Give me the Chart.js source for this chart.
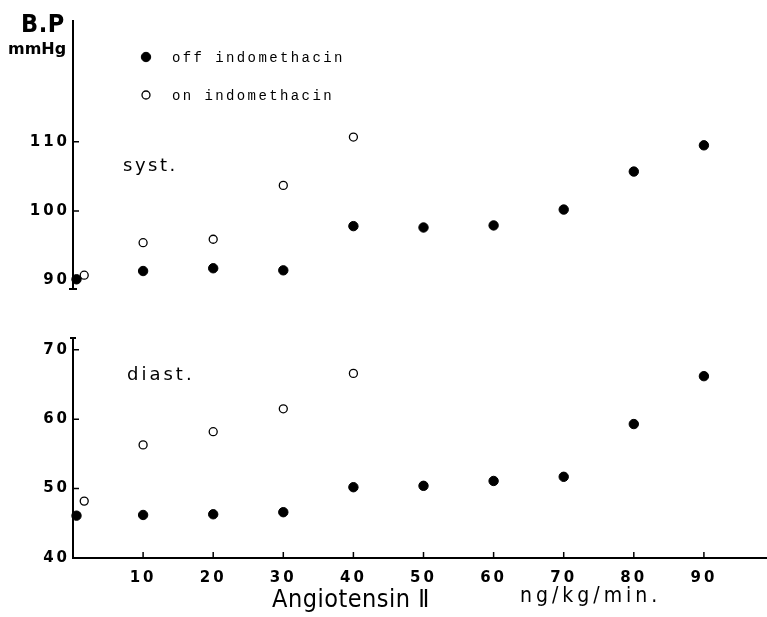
<!DOCTYPE html>
<html>
<head>
<meta charset="utf-8">
<script src="https://cdn.jsdelivr.net/npm/chart.js@4.4.0/dist/chart.umd.min.js"></script>
<style>
  html, body { margin: 0; padding: 0; background: #fff; }
  #wrap { position: relative; width: 767px; height: 617px; }
  #wrap canvas { position: absolute; left: 0; }
</style>
</head>
<body>
<div id="wrap">
  <canvas id="sysChart" width="767" height="300" style="top:0"></canvas>
  <canvas id="diaChart" width="767" height="317" style="top:300px"></canvas>
</div>
<script>
// dose of angiotensin II (ng/kg/min); the 0 dose is drawn slightly off the axis
const doseOff = [0.5, 10, 20, 30, 40, 50, 60, 70, 80, 90];
const doseOn = [1.6, 10, 20, 30, 40];

// systolic BP
const sysOff = [90.1, 91.3, 91.7, 91.4, 97.8, 97.6, 97.9, 100.2, 105.7, 109.5];
const sysOn = [90.7, 95.4, 95.9, 103.7, 110.7];

// diastolic BP
const diaOff = [46.1, 46.2, 46.3, 46.6, 50.2, 50.4, 51.1, 51.7, 59.3, 66.2];
const diaOn = [48.2, 56.3, 58.2, 61.5, 66.6];

const sysTicks = [90, 100, 110];
const diaTicks = [40, 50, 60, 70];
const doseTicks = [10, 20, 30, 40, 50, 60, 70, 80, 90];

const labelOff = "off indomethacin";
const labelOn = "on indomethacin";

Chart.defaults.font.family = "'DejaVu Sans', sans-serif";
Chart.defaults.color = "#000";

const tickFont = { family: "'DejaVu Sans'", size: 15, weight: "bold" };

function toPoints(xs, ys) {
  return ys.map((y, i) => ({ x: xs[i], y: y }));
}

function makeSets(offVals, onVals) {
  return [
    {
      label: labelOff,
      data: toPoints(doseOff, offVals),
      pointRadius: 4.7,
      pointBackgroundColor: "#000",
      pointBorderColor: "#000",
      pointBorderWidth: 1,
      showLine: false,
      clip: false,
    },
    {
      label: labelOn,
      data: toPoints(doseOn, onVals),
      pointRadius: 4,
      pointBackgroundColor: "#fff",
      pointBorderColor: "#000",
      pointBorderWidth: 1.3,
      showLine: false,
      clip: false,
    },
  ];
}

function text(ctx, str, x, y, font, spacing) {
  ctx.save();
  ctx.font = font;
  ctx.letterSpacing = spacing || "0px";
  ctx.fillStyle = "#000";
  ctx.textAlign = "left";
  ctx.textBaseline = "alphabetic";
  ctx.fillText(str, x, y);
  ctx.restore();
}

// small ticks pointing into the plot
function innerTicks(chart, withX) {
  const ctx = chart.ctx;
  const xs = chart.scales.x;
  const ys = chart.scales.y;
  const area = chart.chartArea;
  ctx.save();
  ctx.strokeStyle = "#000";
  ctx.lineWidth = 1.5;
  ctx.beginPath();
  if (withX) {
    xs.ticks.forEach((t) => {
      const px = xs.getPixelForValue(t.value);
      ctx.moveTo(px, area.bottom);
      ctx.lineTo(px, area.bottom - 6);
    });
  }
  ys.ticks.forEach((t) => {
    if (t.value === ys.min) return;
    const py = ys.getPixelForValue(t.value);
    ctx.moveTo(area.left, py);
    ctx.lineTo(area.left + 6, py);
  });
  ctx.stroke();
  ctx.restore();
}

// wide letter spacing on tick labels
const spacingPlugin = {
  id: "spacing",
  beforeDraw(chart) {
    chart.ctx.letterSpacing = "3px";
  },
};

// annotations of the systolic panel
const sysNotes = {
  id: "sysNotes",
  afterDraw(chart) {
    const ctx = chart.ctx;
    const area = chart.chartArea;
    innerTicks(chart, false);

    // axis runs a little below 90 and ends with a cap
    ctx.save();
    ctx.strokeStyle = "#000";
    ctx.lineWidth = 2;
    ctx.beginPath();
    ctx.moveTo(area.left, area.bottom);
    ctx.lineTo(area.left, area.bottom + 9);
    ctx.moveTo(area.left - 4, area.bottom + 9);
    ctx.lineTo(area.left + 4, area.bottom + 9);
    ctx.stroke();
    ctx.restore();

    text(ctx, "B.P", 21, 32, "bold 25px 'DejaVu Sans Condensed', 'DejaVu Sans'", "0.5px");
    text(ctx, "mmHg", 8, 54, "bold 16px 'DejaVu Sans'");
    text(ctx, "syst.", 123, 171, "18px 'DejaVu Sans'", "2.5px");

    // legend
    const sets = chart.data.datasets;
    const rows = [57, 95];
    sets.forEach((ds, i) => {
      ctx.save();
      ctx.beginPath();
      ctx.arc(146, rows[i], ds.pointRadius, 0, Math.PI * 2);
      ctx.fillStyle = ds.pointBackgroundColor;
      ctx.fill();
      ctx.lineWidth = ds.pointBorderWidth;
      ctx.strokeStyle = ds.pointBorderColor;
      ctx.stroke();
      ctx.restore();
      text(ctx, ds.label, 172, rows[i] + 5, "14px 'Liberation Mono'", "2.4px");
    });
  },
};

// inward ticks and annotations of the diastolic panel
const diaNotes = {
  id: "diaNotes",
  afterDraw(chart) {
    const ctx = chart.ctx;
    const area = chart.chartArea;
    innerTicks(chart, true);

    // small cap on the top of the axis
    ctx.save();
    ctx.strokeStyle = "#000";
    ctx.lineWidth = 2;
    ctx.beginPath();
    ctx.moveTo(area.left - 3, area.top);
    ctx.lineTo(area.left + 3, area.top);
    ctx.stroke();
    ctx.restore();

    text(ctx, "diast.", 127, 80, "18px 'DejaVu Sans'", "3px");
    text(ctx, "Angiotensin \u2161", 272, 307, "25px 'DejaVu Sans Condensed', 'DejaVu Sans'", "0.5px");
    text(ctx, "ng/kg/min.", 520, 302, "21px 'DejaVu Sans Condensed', 'DejaVu Sans'", "4px");
  },
};

const xScale = (show) => ({
  type: "linear",
  min: 0,
  max: 99,
  display: show,
  afterBuildTicks: (s) => {
    s.ticks = doseTicks.map((v) => ({ value: v }));
  },
  afterFit: (s) => {
    s.height = show ? 59 : 0;
  },
  grid: { drawOnChartArea: false, drawTicks: false },
  border: { color: "#000", width: 2 },
  ticks: { font: tickFont, padding: 11, maxRotation: 0 },
});

// systolic panel
new Chart(document.getElementById("sysChart"), {
  type: "scatter",
  data: { datasets: makeSets(sysOff, sysOn) },
  plugins: [spacingPlugin, sysNotes],
  options: {
    responsive: false,
    animation: false,
    layout: { autoPadding: false, padding: { top: 21, bottom: 20, left: 0, right: 0 } },
    plugins: { legend: { display: false }, tooltip: { enabled: false } },
    scales: {
      x: xScale(false),
      y: {
        min: 90,
        max: 127.5,
        afterBuildTicks: (s) => {
          s.ticks = sysTicks.map((v) => ({ value: v }));
        },
        afterFit: (s) => {
          s.width = 73;
        },
        grid: { drawOnChartArea: false, drawTicks: false },
        border: { color: "#000", width: 2 },
        ticks: { font: tickFont, padding: 3 },
      },
    },
  },
});

// diastolic panel
new Chart(document.getElementById("diaChart"), {
  type: "scatter",
  data: { datasets: makeSets(diaOff, diaOn) },
  plugins: [spacingPlugin, diaNotes],
  options: {
    responsive: false,
    animation: false,
    layout: { autoPadding: false, padding: { top: 38, bottom: 0, left: 0, right: 0 } },
    plugins: { legend: { display: false }, tooltip: { enabled: false } },
    scales: {
      x: xScale(true),
      y: {
        min: 40,
        max: 71.7,
        afterBuildTicks: (s) => {
          s.ticks = diaTicks.map((v) => ({ value: v }));
        },
        afterFit: (s) => {
          s.width = 73;
        },
        grid: { drawOnChartArea: false, drawTicks: false },
        border: { color: "#000", width: 2 },
        ticks: { font: tickFont, padding: 3 },
      },
    },
  },
});
</script>
</body>
</html>
